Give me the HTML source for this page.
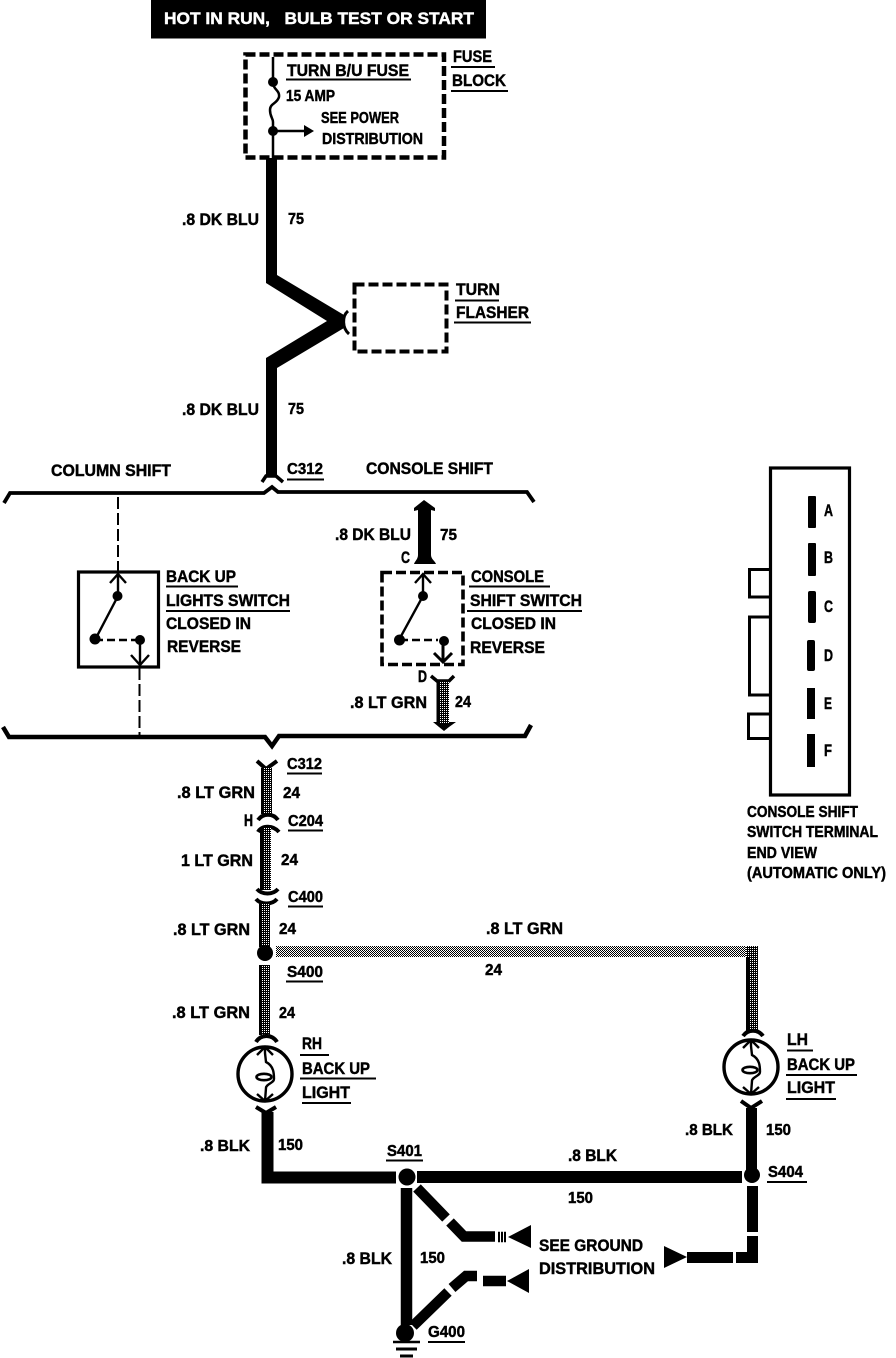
<!DOCTYPE html>
<html><head><meta charset="utf-8"><style>
html,body{margin:0;padding:0;background:#fff;width:896px;height:1358px;overflow:hidden}
svg{display:block}
text{font-family:"Liberation Sans",sans-serif;font-weight:bold;font-size:16.5px;fill:#000;stroke:#000;stroke-width:.45;transform:translateY(-1px)}
.m{font-size:15.5px}
.w{fill:none;stroke:#000;stroke-linecap:butt;stroke-linejoin:miter}
.u{stroke:#000;stroke-width:2;fill:none}
</style></head><body>
<svg width="896" height="1358" viewBox="0 0 896 1358" xmlns="http://www.w3.org/2000/svg">
<defs>
<pattern id="g" width="2" height="2" patternUnits="userSpaceOnUse" shape-rendering="crispEdges"><rect width="2" height="2" fill="#000"/><rect width="1" height="1" fill="#fff"/></pattern>
<pattern id="h" width="2" height="2" patternUnits="userSpaceOnUse" shape-rendering="crispEdges"><rect width="2" height="2" fill="#fff"/><rect width="1" height="1" fill="#000"/><rect x="1" y="1" width="1" height="1" fill="#000"/></pattern>
<g id="bulb"><circle r="27" fill="#fff" stroke="#000" stroke-width="3.4"/>
<path class="w" stroke-width="2.4" d="M-8,-19L0,-27L8,-19M0,-27V-21L1,-12C9,-8 9,0 9,5C9,9 1,10 1,14L0,27M-8,20L0,27L8,20"/>
<ellipse cx="-1" cy="3" rx="7.5" ry="3.2" fill="#fff" stroke="#000" stroke-width="2.6"/></g>
</defs>

<!-- header -->
<rect x="151" y="0" width="335" height="38.5" fill="#000"/>
<text x="164" y="25" textLength="310" lengthAdjust="spacingAndGlyphs" style="fill:#fff;stroke:#fff" xml:space="preserve">HOT IN RUN,   BULB TEST OR START</text>

<!-- fuse block -->
<rect x="245.500" y="54.500" width="198.500" height="103" class="w" stroke-width="4.500" stroke-dasharray="10 4"/>
<path class="w" stroke-width="2.500" d="M273,57V82C273,90 280,90 279,97C277,104 270,103 270,110C270,117 273,118 273,122V158"/>
<circle cx="273" cy="82" r="5"/><circle cx="273" cy="131" r="5"/>
<path class="w" stroke-width="2.500" d="M273,131H306"/><path d="M304,125L314,131L304,137Z"/>
<text x="287" y="77" textLength="122" lengthAdjust="spacingAndGlyphs">TURN B/U FUSE</text><path class="u" d="M286,79.500H411"/>
<text class="m" x="286" y="102" textLength="49" lengthAdjust="spacingAndGlyphs">15 AMP</text>
<text class="m" x="321" y="124" textLength="78" lengthAdjust="spacingAndGlyphs">SEE POWER</text>
<text class="m" x="322" y="145" textLength="101" lengthAdjust="spacingAndGlyphs">DISTRIBUTION</text>
<text x="453" y="63" textLength="39" lengthAdjust="spacingAndGlyphs">FUSE</text><path class="u" d="M451,67H495"/>
<text x="452" y="87" textLength="54" lengthAdjust="spacingAndGlyphs">BLOCK</text><path class="u" d="M451,91H508"/>

<!-- main wire -->
<path d="M266,158H277V275L344,315V328L277,368V475H266V358L327,321L266,283Z"/>
<path class="w" stroke-width="3" d="M348,311C342,316 342,328 349,334"/>
<rect x="354.500" y="284.500" width="92" height="67" class="w" stroke-width="4" stroke-dasharray="10 4"/>
<text x="456" y="296" textLength="44" lengthAdjust="spacingAndGlyphs">TURN</text><path class="u" d="M455,300.500H499"/>
<text x="456" y="319" textLength="73" lengthAdjust="spacingAndGlyphs">FLASHER</text><path class="u" d="M454,322.500H531"/>
<text x="182" y="226" textLength="77" lengthAdjust="spacingAndGlyphs">.8 DK BLU</text><text class="m" x="288" y="225" textLength="16" lengthAdjust="spacingAndGlyphs">75</text>
<text x="182" y="416" textLength="77" lengthAdjust="spacingAndGlyphs">.8 DK BLU</text><text class="m" x="288" y="415" textLength="16" lengthAdjust="spacingAndGlyphs">75</text>
<path class="w" stroke-width="3.500" d="M262,482L266,476H276L283,482"/>

<!-- shift section -->
<text x="51" y="477" textLength="120" lengthAdjust="spacingAndGlyphs">COLUMN SHIFT</text>
<text x="366" y="475" textLength="127" lengthAdjust="spacingAndGlyphs">CONSOLE SHIFT</text>
<text class="m" x="287" y="475" textLength="36" lengthAdjust="spacingAndGlyphs">C312</text><path class="u" d="M287,479.500H324"/>
<path class="w" stroke-width="3.800" d="M4,503L10,493H264L272,487L278,492H527L534,502"/>
<path class="w" stroke-width="4.500" d="M3,727L9,737H265L272,746L279,736H525L531,725"/>
<path class="w" stroke-width="2" stroke-dasharray="12 4" d="M118,497V571"/>
<path class="w" stroke-width="2" stroke-dasharray="12 4" d="M139.500,668V735"/>

<!-- back up switch -->
<rect x="78.500" y="572" width="80" height="95" class="w" stroke-width="3.200"/>
<path class="w" stroke-width="2.400" d="M110,583L118,574L126,583M118,574V596L96,638"/>
<path class="w" stroke-width="2.400" stroke-dasharray="8 4" d="M95,640H136"/>
<circle cx="117.500" cy="596" r="5"/><circle cx="95" cy="639" r="5.500"/><circle cx="140" cy="640" r="5"/>
<path class="w" stroke-width="2.400" d="M140,640V665M131,655L140,665L149,655"/>
<text x="166" y="583" textLength="70" lengthAdjust="spacingAndGlyphs">BACK UP</text><path class="u" d="M166,586.500H238"/>
<text x="166" y="607" textLength="124" lengthAdjust="spacingAndGlyphs">LIGHTS SWITCH</text><path class="u" d="M166,611H290"/>
<text x="166" y="630" textLength="85" lengthAdjust="spacingAndGlyphs">CLOSED IN</text>
<text x="167" y="653" textLength="74" lengthAdjust="spacingAndGlyphs">REVERSE</text>

<!-- console switch -->
<path d="M424,500L435,508V511L431,510V555C431,559 435,561 436,564H414C415,561 418,559 418,555V510L414,511V508Z"/>
<text x="335" y="541" textLength="76" lengthAdjust="spacingAndGlyphs">.8 DK BLU</text><text class="m" x="440" y="541" textLength="17" lengthAdjust="spacingAndGlyphs">75</text>
<text x="401" y="564" textLength="9" lengthAdjust="spacingAndGlyphs">C</text>
<rect x="382" y="572.500" width="81" height="92" class="w" stroke-width="3.600" stroke-dasharray="10 4"/>
<path class="w" stroke-width="2.400" d="M415,583L423,574L431,583M423,574V596L400,638"/>
<path class="w" stroke-width="2.400" stroke-dasharray="8 4" d="M400,640H438"/>
<circle cx="423" cy="596" r="5"/><circle cx="399.500" cy="640" r="5.500"/><circle cx="444" cy="641" r="5"/>
<path class="w" stroke-width="3" d="M443,641V660M434,653L443,662L452,653"/>
<text x="471" y="583" textLength="73" lengthAdjust="spacingAndGlyphs">CONSOLE</text><path class="u" d="M469,586.500H550"/>
<text x="470" y="607" textLength="112" lengthAdjust="spacingAndGlyphs">SHIFT SWITCH</text><path class="u" d="M467,611H582"/>
<text x="471" y="630" textLength="85" lengthAdjust="spacingAndGlyphs">CLOSED IN</text>
<text x="470" y="654" textLength="75" lengthAdjust="spacingAndGlyphs">REVERSE</text>
<text x="418" y="683" textLength="9" lengthAdjust="spacingAndGlyphs">D</text>
<path class="w" stroke-width="3.500" d="M431,676L437,681H449L454,676"/>
<rect x="437" y="681" width="12" height="43" fill="url(#g)"/><path d="M438,681V724" class="w" stroke-width="3"/>
<path d="M433,722H437V724H449V722H456L449,727L444,731L439,727Z"/>
<text x="350" y="709" textLength="77" lengthAdjust="spacingAndGlyphs">.8 LT GRN</text><text class="m" x="455" y="708" textLength="16" lengthAdjust="spacingAndGlyphs">24</text>

<!-- terminal end view -->
<rect x="770.500" y="468" width="79" height="327" class="w" stroke-width="3.200"/>
<path class="w" stroke-width="3" d="M770,569.500H749.500V597H770M770,617H749.500V695H770M770,714H748.500V738.500H770"/>
<rect x="808" y="496" width="8" height="32" rx="1"/><rect x="808" y="543" width="8" height="33" rx="1"/><rect x="808" y="591" width="8" height="32" rx="2"/><rect x="807" y="640" width="8" height="31" rx="2"/><rect x="807" y="688" width="8" height="31"/><rect x="807" y="734" width="8" height="33"/>
<text x="824" y="517" textLength="9" lengthAdjust="spacingAndGlyphs">A</text>
<text x="824" y="564" textLength="9" lengthAdjust="spacingAndGlyphs">B</text>
<text x="824" y="613" textLength="9" lengthAdjust="spacingAndGlyphs">C</text>
<text x="824" y="662" textLength="9" lengthAdjust="spacingAndGlyphs">D</text>
<text x="824" y="710" textLength="8" lengthAdjust="spacingAndGlyphs">E</text>
<text x="824" y="757" textLength="8" lengthAdjust="spacingAndGlyphs">F</text>
<text class="m" x="747" y="818" textLength="111" lengthAdjust="spacingAndGlyphs">CONSOLE SHIFT</text>
<text class="m" x="747" y="838" textLength="131" lengthAdjust="spacingAndGlyphs">SWITCH TERMINAL</text>
<text class="m" x="747" y="859" textLength="70" lengthAdjust="spacingAndGlyphs">END VIEW</text>
<text class="m" x="747" y="879" textLength="139" lengthAdjust="spacingAndGlyphs">(AUTOMATIC ONLY)</text>

<!-- lower green wires -->
<path class="w" stroke-width="4" d="M257,761L266,769L277,761"/>
<rect x="261" y="768" width="11" height="46" fill="url(#g)"/><path class="w" stroke-width="3" d="M262.500,768V814"/>
<path class="w" stroke-width="4" d="M258,820C263,813 273,813 278,820M258,832C262,825 273,825 279,832"/>
<rect x="260" y="828" width="11" height="62" fill="url(#g)"/><path class="w" stroke-width="3" d="M261.500,828V890"/>
<path class="w" stroke-width="4" d="M257,889C262,895 273,895 278,889M256,899C261,905 272,905 277,899"/>
<rect x="259" y="904" width="11" height="43" fill="url(#g)"/><path class="w" stroke-width="3" d="M260.500,904V947"/>
<circle cx="265" cy="953" r="8"/>
<rect x="259" y="965" width="11" height="70" fill="url(#g)"/><path class="w" stroke-width="3" d="M260.500,965V1035"/>
<path class="w" stroke-width="4" d="M256,1042C261,1034 272,1034 277,1042"/>
<use href="#bulb" x="265" y="1074"/>
<path class="w" stroke-width="4" d="M256,1107L266,1113L276,1107"/>
<path class="w" stroke-width="12" d="M267.500,1112V1177.500H396"/>

<rect x="276" y="946" width="482" height="11" fill="url(#h)"/>
<rect x="746" y="946" width="12" height="85" fill="url(#g)"/><path class="w" stroke-width="3" d="M747.500,957V1031"/>
<path class="w" stroke-width="4" d="M743,1036C748,1029 758,1029 763,1036"/>
<use href="#bulb" x="751" y="1067"/>
<path class="w" stroke-width="4" d="M741,1101L751,1108L762,1101"/>
<path class="w" stroke-width="11" d="M751.500,1108V1170"/>

<text x="177" y="799" textLength="78" lengthAdjust="spacingAndGlyphs">.8 LT GRN</text><text class="m" x="283" y="799" textLength="17" lengthAdjust="spacingAndGlyphs">24</text>
<text class="m" x="287" y="770" textLength="35" lengthAdjust="spacingAndGlyphs">C312</text><path class="u" d="M287,773.500H322"/>
<text x="244" y="827" textLength="9" lengthAdjust="spacingAndGlyphs">H</text>
<text class="m" x="288" y="827" textLength="35" lengthAdjust="spacingAndGlyphs">C204</text><path class="u" d="M288,830.500H323"/>
<text x="181" y="867" textLength="72" lengthAdjust="spacingAndGlyphs">1 LT GRN</text><text class="m" x="281" y="866" textLength="17" lengthAdjust="spacingAndGlyphs">24</text>
<text class="m" x="288" y="903" textLength="35" lengthAdjust="spacingAndGlyphs">C400</text><path class="u" d="M288,906.500H323"/>
<text x="173" y="936" textLength="77" lengthAdjust="spacingAndGlyphs">.8 LT GRN</text><text class="m" x="279" y="935" textLength="17" lengthAdjust="spacingAndGlyphs">24</text>
<text x="486" y="935" textLength="77" lengthAdjust="spacingAndGlyphs">.8 LT GRN</text><text class="m" x="485" y="976" textLength="17" lengthAdjust="spacingAndGlyphs">24</text>
<text class="m" x="287" y="978" textLength="36" lengthAdjust="spacingAndGlyphs">S400</text><path class="u" d="M286,981.500H323"/>
<text x="172" y="1019" textLength="78" lengthAdjust="spacingAndGlyphs">.8 LT GRN</text><text class="m" x="279" y="1019" textLength="16" lengthAdjust="spacingAndGlyphs">24</text>
<text x="302" y="1050" textLength="20" lengthAdjust="spacingAndGlyphs">RH</text><path class="u" d="M300,1055H329"/>
<text x="302" y="1075" textLength="68" lengthAdjust="spacingAndGlyphs">BACK UP</text><path class="u" d="M300,1078.500H376"/>
<text x="302" y="1099" textLength="48" lengthAdjust="spacingAndGlyphs">LIGHT</text><path class="u" d="M302,1103H351"/>
<text x="787" y="1046" textLength="21" lengthAdjust="spacingAndGlyphs">LH</text><path class="u" d="M787,1050.500H813"/>
<text x="787" y="1071" textLength="68" lengthAdjust="spacingAndGlyphs">BACK UP</text><path class="u" d="M786,1075H857"/>
<text x="787" y="1094" textLength="48" lengthAdjust="spacingAndGlyphs">LIGHT</text><path class="u" d="M786,1099H836"/>
<text class="m" x="200" y="1152" textLength="50" lengthAdjust="spacingAndGlyphs">.8 BLK</text><text class="m" x="278" y="1151" textLength="25" lengthAdjust="spacingAndGlyphs">150</text>
<text class="m" x="685" y="1136" textLength="48" lengthAdjust="spacingAndGlyphs">.8 BLK</text><text class="m" x="766" y="1136" textLength="25" lengthAdjust="spacingAndGlyphs">150</text>

<!-- ground section -->
<path class="w" stroke-width="12" d="M417,1177H742"/>
<circle cx="407" cy="1177" r="8.500"/><circle cx="752" cy="1175" r="8"/>
<path class="w" stroke-width="11.500" d="M406.500,1188V1325"/>
<path class="w" stroke-width="10.500" d="M417,1188L446,1218M450,1222L464,1236.500H495"/>
<path class="w" stroke-width="10.500" d="M413,1326L448,1292M452,1288L466,1276H477M483,1281H506"/>
<path class="w" stroke-width="10.500" stroke-dasharray="2 1" d="M498,1237H507"/>
<path d="M508,1237L531,1225V1248Z"/><path d="M507,1281L529,1269V1293Z"/>
<path class="w" stroke-width="11" d="M752.500,1186V1232"/>
<path class="w" stroke-width="11" d="M752.500,1236V1257.500H736"/>
<path class="w" stroke-width="11" d="M733,1257.500H687"/>
<path d="M687,1257L664,1246V1268Z"/>
<circle cx="405" cy="1333" r="9"/>
<path class="w" stroke-width="2.500" d="M393,1342H420"/><path class="w" stroke-width="3" d="M396,1349H417M400,1356H413"/>
<text class="m" x="387" y="1157" textLength="35" lengthAdjust="spacingAndGlyphs">S401</text><path class="u" d="M386,1160.500H423"/>
<text x="568" y="1162" textLength="49" lengthAdjust="spacingAndGlyphs">.8 BLK</text><text class="m" x="568" y="1204" textLength="25" lengthAdjust="spacingAndGlyphs">150</text>
<text class="m" x="768" y="1178" textLength="35" lengthAdjust="spacingAndGlyphs">S404</text><path class="u" d="M767,1182H807"/>
<text x="342" y="1265" textLength="50" lengthAdjust="spacingAndGlyphs">.8 BLK</text><text class="m" x="420" y="1264" textLength="25" lengthAdjust="spacingAndGlyphs">150</text>
<text x="539" y="1252" textLength="104" lengthAdjust="spacingAndGlyphs">SEE GROUND</text>
<text x="539" y="1275" textLength="116" lengthAdjust="spacingAndGlyphs">DISTRIBUTION</text>
<text class="m" x="428" y="1338" textLength="37" lengthAdjust="spacingAndGlyphs">G400</text><path class="u" d="M428,1342H465"/>
</svg>
</body></html>
